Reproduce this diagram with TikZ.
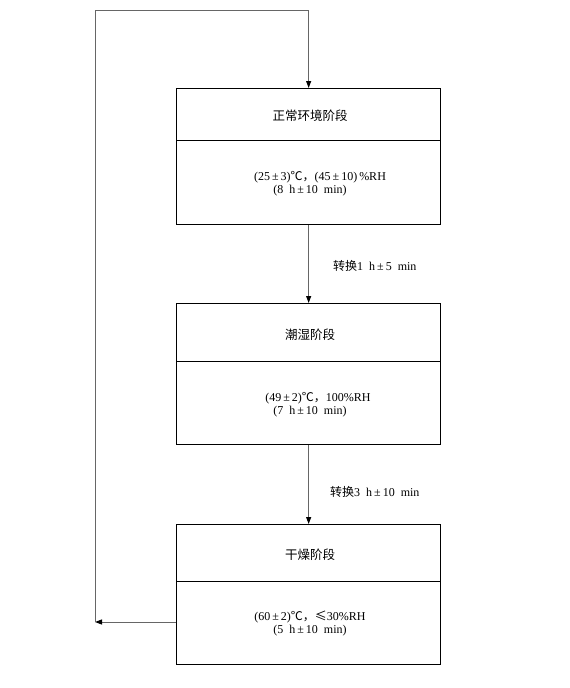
\documentclass[tikz,border=0pt]{standalone}
\usepackage{fontspec}
\setmainfont{Liberation Serif}
\newfontfamily\cjk{Noto Sans CJK SC}
\usetikzlibrary{arrows.meta}
\newcommand{\pmx}{\,±\,}
\begin{document}
\begin{tikzpicture}[x=1pt,y=-1pt,
  box/.style={draw=black,line width=1.3pt,minimum width=264pt,inner sep=0pt,anchor=north west},
  divider/.style={draw=black,line width=1.0pt},
  title/.style={font=\cjk\fontsize{12.5}{14}\selectfont,inner sep=0pt},
  body/.style={font=\fontsize{12}{14.5}\selectfont,inner sep=0pt},
  lbl/.style={font=\fontsize{12}{14}\selectfont,inner sep=0pt,anchor=west},
  flow/.style={draw=black!60,line width=1pt,-{Triangle[length=7pt,width=5pt,color=black]}}]
\useasboundingbox (0,0) rectangle (570,688);
\node[box,minimum height=136pt] (b1) at (176,88) {};
\node[box,minimum height=141pt] (b2) at (176,303) {};
\node[box,minimum height=140pt] (b3) at (176,524) {};
\draw[divider] (b1.west |- 0,140) -- (b1.east |- 0,140);
\draw[divider] (b2.west |- 0,361) -- (b2.east |- 0,361);
\draw[divider] (b3.west |- 0,581) -- (b3.east |- 0,581);
\node[title] (t1) at (310,116) {正常环境阶段};
\node[title] (t2) at (310,335) {潮湿阶段};
\node[title] (t3) at (310,555) {干燥阶段};
\node[body] (c1a) at (320,177) {(25\pmx 3){\cjk ℃，}(45\pmx 10)\,\%RH};
\node[body] (c1b) at (310,191) {(8\enspace h\pmx 10\enspace min)};
\node[body] (c2a) at (318,398) {(49\pmx 2){\cjk ℃，}100\%RH};
\node[body] (c2b) at (310,412) {(7\enspace h\pmx 10\enspace min)};
\node[body] (c3a) at (310,617) {(60\pmx 2){\cjk ℃，≤}30\%RH};
\node[body] (c3b) at (310,631) {(5\enspace h\pmx 10\enspace min)};
\draw[flow] (b1.south) -- (b2.north);
\draw[flow] (b2.south) -- (b3.north);
\node[lbl] (l1) at (333,266) {{\cjk 转换}1\enspace h\pmx 5\enspace min};
\node[lbl] (l2) at (330,492) {{\cjk 转换}3\enspace h\pmx 10\enspace min};
\coordinate (k1) at (95,622);
\coordinate (k2) at (95,10);
\draw[flow] (b3.west |- k1) -- (k1);
\draw[flow] (k1) -- (k2) -| (b1.north);
\end{tikzpicture}
\end{document}
